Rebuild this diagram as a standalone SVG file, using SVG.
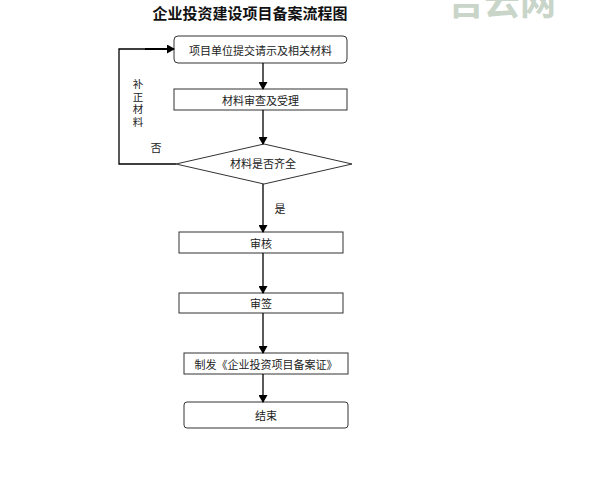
<svg xmlns="http://www.w3.org/2000/svg" width="589" height="500" viewBox="0 0 589 500">
<style>
.box{fill:#fff;stroke:#333;stroke-width:1}
.t{font-family:"Noto Sans CJK SC","Noto Sans",sans-serif;font-size:11px;fill:#222;text-anchor:middle;dominant-baseline:central}
.ln{fill:none;stroke:#000;stroke-width:1.3}
</style>
<defs>
<marker id="ah" markerWidth="8" markerHeight="9" refX="7" refY="4.5" orient="auto" markerUnits="userSpaceOnUse">
<path d="M0,0 L8,4.5 L0,9 Z" fill="#000"/>
</marker>
</defs>
<rect width="589" height="500" fill="#fff"/>
<text x="502" y="15" font-family="'Noto Sans CJK SC',sans-serif" font-size="36" font-weight="bold" fill="#c8d5c8" text-anchor="middle">吉云网</text>
<text x="250" y="12" font-family="'Noto Sans CJK SC',sans-serif" font-size="15" font-weight="bold" fill="#111" text-anchor="middle" dominant-baseline="central">企业投资建设项目备案流程图</text>
<g id="n1"><rect class="box" x="174" y="36" width="173" height="27" rx="4"/><text class="t" x="260.5" y="49.5">项目单位提交请示及相关材料</text></g>
<g id="n2"><rect class="box" x="174" y="89" width="173" height="21"/><text class="t" x="260.5" y="99.5">材料审查及受理</text></g>
<g id="n3"><polygon class="box" points="176,164 264,144 352,164 264,184"/><text class="t" x="263" y="163">材料是否齐全</text></g>
<g id="n4"><rect class="box" x="179" y="232" width="164" height="21"/><text class="t" x="261" y="242.5">审核</text></g>
<g id="n5"><rect class="box" x="179" y="293" width="164" height="20"/><text class="t" x="261" y="303">审签</text></g>
<g id="n6"><rect class="box" x="184" y="353" width="164" height="21"/><text class="t" x="266" y="363.5">制发《企业投资项目备案证》</text></g>
<g id="n7"><rect class="box" x="184" y="402" width="164" height="26" rx="3"/><text class="t" x="266" y="415">结束</text></g>
<g id="connectors">
<line class="ln" x1="263" y1="63" x2="263" y2="89" marker-end="url(#ah)"/>
<line class="ln" x1="263" y1="110" x2="263" y2="144" marker-end="url(#ah)"/>
<line class="ln" x1="263" y1="184" x2="263" y2="232" marker-end="url(#ah)"/>
<line class="ln" x1="263" y1="253" x2="263" y2="293" marker-end="url(#ah)"/>
<line class="ln" x1="263" y1="313" x2="263" y2="353" marker-end="url(#ah)"/>
<line class="ln" x1="263" y1="374" x2="263" y2="402" marker-end="url(#ah)"/>
<polyline class="ln" points="176,164 119,164 119,49 174,49" marker-end="url(#ah)"/>
<line x1="145" y1="49" x2="168" y2="49" stroke="#000" stroke-width="2"/>
<text x="138" y="79" writing-mode="tb" font-family="'Noto Sans CJK SC',sans-serif" font-size="10.5" letter-spacing="2" fill="#222">补正材料</text>
<text class="t" x="156" y="147">否</text>
<text class="t" x="280" y="208">是</text>
</g>
</svg>
